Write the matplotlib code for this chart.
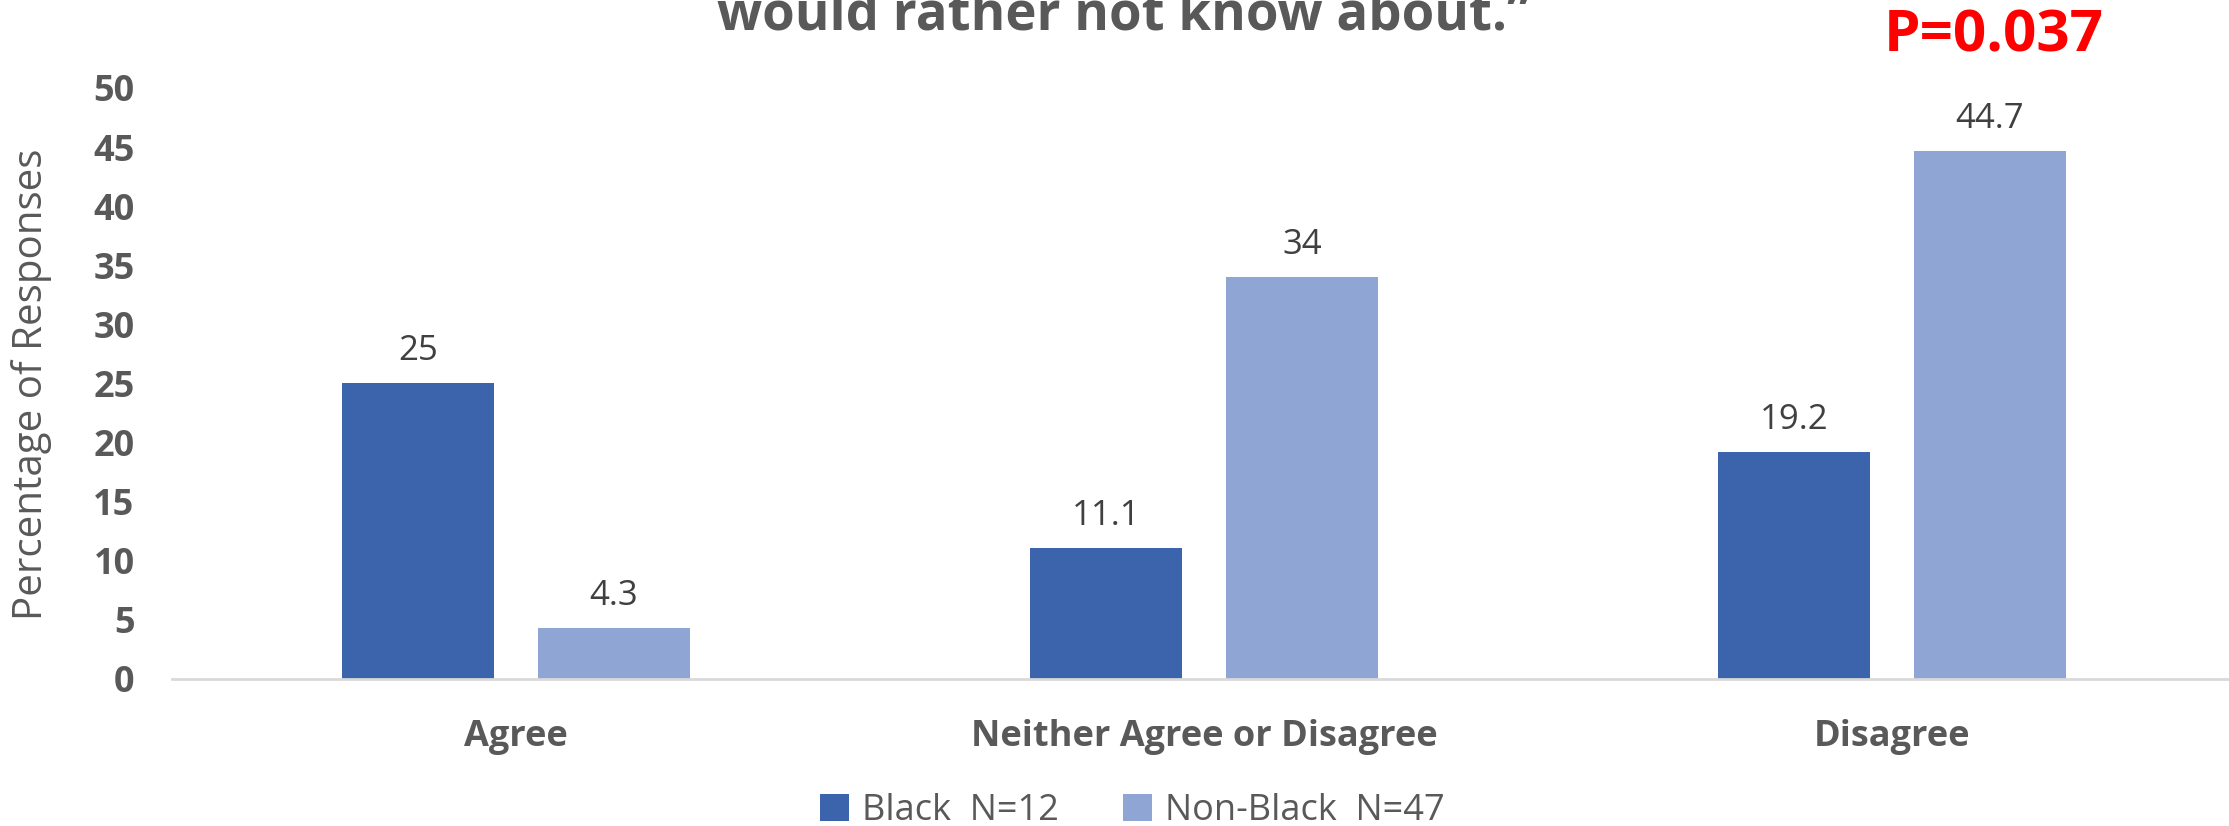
import matplotlib
matplotlib.use("Agg")
import matplotlib.pyplot as plt
import numpy as np

categories = ["Agree", "Neither Agree or Disagree", "Disagree"]
black = [25, 11.1, 19.2]
non_black = [4.3, 34, 44.7]
black_label = "Black  N=12"
non_black_label = "Non-Black  N=47"
y_ticks = [0, 5, 10, 15, 20, 25, 30, 35, 40, 45, 50]

c_black = "#3C64AC"
c_non = "#8FA5D4"
grey = "#595959"

plt.rcParams["font.family"] = ["Open Sans", "DejaVu Sans"]

fig = plt.figure(figsize=(22.29, 8.26), dpi=100)
ax = fig.add_axes([0.0772, 0.178, 0.926, 0.7155])

x = np.arange(len(categories))
w = 0.221
off = 0.142
b1 = ax.bar(x - off, black, w, color=c_black, label=black_label, zorder=2)
b2 = ax.bar(x + off, non_black, w, color=c_non, label=non_black_label, zorder=2)

# value labels above each bar
for bars, vals in ((b1, black), (b2, non_black)):
    for r, v in zip(bars, vals):
        ax.annotate(f"{v:g}", (r.get_x() + r.get_width() / 2, v),
                    xytext=(0, 23), textcoords="offset pixels",
                    ha="center", va="baseline", fontsize=25, color="#404040")

ax.set_xlim(-0.5, 2.5)
ax.set_ylim(0, 50)
ax.set_yticks(y_ticks)
ax.set_xticks(x)
ax.set_xticklabels(categories, fontsize=26, fontweight="bold", color=grey)
for t in ax.get_yticklabels():
    t.set_fontsize(26)
    t.set_fontweight("bold")
    t.set_color(grey)
ax.tick_params(axis="y", length=0, pad=27)
ax.tick_params(axis="x", length=0, pad=29)

for s in ("top", "right", "left"):
    ax.spines[s].set_visible(False)
ax.spines["bottom"].set_color("#D9D9D9")
ax.spines["bottom"].set_linewidth(2)

fig.text(0.014, 1 - 384 / 826, "Percentage of Responses", rotation=90,
         ha="center", va="center", fontsize=29, color=grey)

fig.text(0.504, 1 - 30 / 826, "would rather not know about.\u201d",
         ha="center", va="baseline", fontsize=38, fontweight="bold", color=grey)

fig.text(0.8945, 1 - 51 / 826, "P=0.037", ha="center", va="baseline",
         fontsize=42, fontweight="bold", color="#FF0000")

fig.legend(loc="center", bbox_to_anchor=(0.508, 0.018), ncol=2, frameon=False,
           handlelength=0.8, handleheight=0.8, handletextpad=0.35,
           columnspacing=1.8,
           prop={"family": ["Liberation Sans Narrow", "Open Sans"], "size": 26},
           labelcolor=grey)

fig.savefig("out.png", dpi=100)
